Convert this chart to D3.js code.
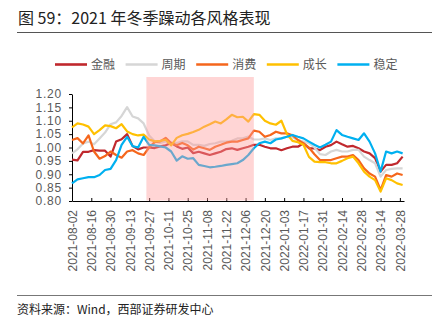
<!DOCTYPE html>
<html>
<head>
<meta charset="utf-8">
<script src="https://d3js.org/d3.v7.min.js"></script>
<style>
  body { margin: 0; background: #fff; }
  #my_dataviz svg { display: block; }
</style>
</head>
<body>
<div id="my_dataviz"></div>
<script>
// sample dates (every 4 days)
var dates = [
  "2021-08-02","2021-08-06","2021-08-10","2021-08-14","2021-08-18","2021-08-22","2021-08-26","2021-08-30",
  "2021-09-03","2021-09-07","2021-09-11","2021-09-15","2021-09-19","2021-09-23","2021-09-27","2021-10-01",
  "2021-10-05","2021-10-09","2021-10-13","2021-10-17","2021-10-21","2021-10-25","2021-10-29","2021-11-02",
  "2021-11-06","2021-11-10","2021-11-14","2021-11-18","2021-11-22","2021-11-26","2021-11-30","2021-12-04",
  "2021-12-08","2021-12-12","2021-12-16","2021-12-20","2021-12-24","2021-12-28","2022-01-01","2022-01-05",
  "2022-01-09","2022-01-13","2022-01-17","2022-01-21","2022-01-25","2022-01-29","2022-02-02","2022-02-06",
  "2022-02-10","2022-02-14","2022-02-18","2022-02-22","2022-02-26","2022-03-02","2022-03-06","2022-03-10",
  "2022-03-14","2022-03-18","2022-03-22","2022-03-26","2022-03-30"
];

var jinrong = [
  0.955, 0.952, 0.984, 0.984, 0.990, 0.988, 0.988, 0.966, 1.022, 1.031, 1.050, 1.005, 0.993, 1.000, 1.000,
  0.998, 1.004, 1.008, 1.017, 1.004, 0.995, 1.000, 0.979,
  0.984, 0.978, 0.972, 0.978, 0.984, 0.994, 0.997, 0.991, 0.997, 1.003,
  1.010, 1.010, 1.003, 0.997, 0.997, 0.990, 0.997, 1.003, 1.003, 1.016, 0.997, 0.997, 0.990, 1.003,
  1.009, 1.022, 1.012, 1.003, 1.006, 0.997, 0.985, 0.978, 0.960, 0.910, 0.935, 0.935, 0.941, 0.966
];
var zhouqi = [
  0.978, 0.993, 1.015, 1.022, 1.012, 1.034, 1.056, 1.087, 1.094, 1.118, 1.151, 1.116, 1.109, 1.090, 1.045,
  1.023, 1.017, 1.023, 1.017, 1.017, 1.023, 1.023, 1.010,
  1.010, 1.006, 1.013, 1.016, 1.022, 1.022, 1.025, 1.034, 1.034, 1.041,
  1.030, 1.030, 1.034, 1.028, 1.034, 1.034, 1.040, 1.038, 1.028, 1.022, 1.016, 1.000, 0.975, 0.972,
  0.985, 0.991, 0.985, 0.985, 0.991, 0.991, 0.966, 0.953, 0.941, 0.891, 0.916, 0.920, 0.922, 0.922
];
var xiaofei = [
  1.028, 1.035, 1.015, 1.045, 0.985, 0.958, 0.968, 0.985, 0.972, 0.962, 0.985, 0.990, 0.978, 0.972, 1.000,
  1.020, 1.023, 1.036, 1.017, 1.008, 1.017, 1.008, 0.992,
  1.003, 0.997, 0.991, 1.003, 1.010, 1.018, 1.022, 1.022, 1.028, 1.034,
  1.063, 1.059, 1.040, 1.047, 1.059, 1.053, 1.053, 1.046, 1.028, 1.016, 1.000, 0.975, 0.953, 0.953,
  0.953, 0.960, 0.966, 0.966, 0.972, 0.953, 0.922, 0.903, 0.891, 0.841, 0.897, 0.891, 0.903, 0.897
];
var chengzhang = [
  1.075, 1.090, 1.086, 1.078, 1.050, 1.065, 1.083, 1.080, 1.072, 1.087, 1.060, 1.050, 1.045, 1.048, 1.030,
  1.023, 1.025, 1.029, 1.008, 1.036, 1.046, 1.051, 1.058,
  1.066, 1.078, 1.087, 1.097, 1.090, 1.105, 1.122, 1.113, 1.115, 1.097,
  1.125, 1.122, 1.100, 1.090, 1.085, 1.100, 1.050, 1.025, 1.020, 1.010, 0.965, 0.947, 0.945, 0.945,
  0.941, 0.941, 0.950, 0.960, 0.966, 0.941, 0.910, 0.891, 0.878, 0.835, 0.885, 0.878, 0.866, 0.860
];
var wending = [
  0.866, 0.881, 0.885, 0.889, 0.889, 0.897, 0.916, 0.920, 0.953, 1.010, 1.040, 1.005, 1.000, 1.040, 1.010,
  1.008, 1.004, 1.000, 0.985, 0.951, 0.967, 0.958, 0.960,
  0.935, 0.931, 0.926, 0.928, 0.931, 0.935, 0.938, 0.941, 0.953, 0.972,
  0.997, 1.016, 1.022, 1.016, 1.030, 1.034, 1.040, 1.047, 1.040, 1.034, 1.022, 1.010, 1.000, 1.010,
  1.022, 1.065, 1.047, 1.040, 1.034, 1.028, 1.053, 1.022, 0.978, 0.910, 0.985, 0.978, 0.985, 0.978
];

var seriesNames = ["金融", "周期", "消费", "成长", "稳定"];
var seriesColors = ["#C0282D", "#D6D6D6", "#F5661C", "#FFC000", "#00B0F0"];

var yTicks = [0.80, 0.85, 0.90, 0.95, 1.00, 1.05, 1.10, 1.15, 1.20];
var xTicks = [
  "2021-08-02","2021-08-16","2021-08-30","2021-09-13","2021-09-27","2021-10-11","2021-10-25","2021-11-08",
  "2021-11-22","2021-12-06","2021-12-20","2022-01-03","2022-01-17","2022-01-31","2022-02-14","2022-02-28",
  "2022-03-14","2022-03-28"
];
// winter rally window
var shadeRange = ["2021-09-25", "2021-12-12"];

function render() {
  var parseDate = d3.timeParse("%Y-%m-%d");
  var W = 440, H = 327;

  var svg = d3.select("#my_dataviz")
    .append("svg")
    .attr("width", W)
    .attr("height", H);

  // title and rules
  svg.append("text")
    .attr("x", 18)
    .attr("y", 24)
    .attr("font-family", "'Noto Sans CJK SC', sans-serif")
    .attr("font-size", 16)
    .attr("fill", "#222")
    .text("图 59：2021 年冬季躁动各风格表现");

  svg.append("line")
    .attr("x1", 17).attr("x2", 432)
    .attr("y1", 32.5).attr("y2", 32.5)
    .attr("stroke", "#555").attr("stroke-width", 1.2);

  svg.append("line")
    .attr("x1", 17).attr("x2", 432)
    .attr("y1", 295.5).attr("y2", 295.5)
    .attr("stroke", "#777").attr("stroke-width", 1);

  svg.append("text")
    .attr("x", 17)
    .attr("y", 314)
    .attr("font-family", "'Noto Sans CJK SC', sans-serif")
    .attr("font-size", 12)
    .attr("fill", "#222")
    .text("资料来源：Wind，西部证券研发中心");

  // scales
  var x = d3.scaleTime()
    .domain([parseDate("2021-08-02"), parseDate("2022-03-31")])
    .range([72, 404]);

  var y = d3.scaleLinear()
    .domain([0.80, 1.20])
    .range([201, 94]);

  // y axis
  var yAxis = svg.append("g")
    .attr("transform", "translate(72,0)")
    .call(d3.axisLeft(y).tickValues(yTicks).tickSize(3).tickSizeOuter(0).tickPadding(7)
      .tickFormat(d3.format(".2f")));
  yAxis.select(".domain").attr("stroke", "#000");
  yAxis.selectAll(".tick line").attr("stroke", "#000");
  yAxis.selectAll("text")
    .attr("font-family", "'Liberation Sans', Arial, sans-serif")
    .attr("font-size", 12)
    .attr("letter-spacing", 0.8)
    .attr("fill", "#595959");

  // x axis
  var xAxis = svg.append("g")
    .attr("transform", "translate(0,201)")
    .call(d3.axisBottom(x).tickValues(xTicks.map(parseDate)).tickSize(-3).tickSizeOuter(0)
      .tickFormat(d3.timeFormat("%Y-%m-%d")));
  xAxis.select(".domain").attr("stroke", "#000");
  xAxis.selectAll(".tick line").attr("stroke", "#000");
  xAxis.selectAll("text")
    .attr("transform", "rotate(-90)")
    .attr("text-anchor", "end")
    .attr("x", -9)
    .attr("y", 0)
    .attr("dy", "0.35em")
    .attr("font-family", "'Liberation Sans', Arial, sans-serif")
    .attr("font-size", 12)
    .attr("fill", "#595959");

  // lines
  var allSeries = [jinrong, zhouqi, xiaofei, chengzhang, wending];
  var line = d3.line()
    .x(function(d, i) { return x(parseDate(dates[i])); })
    .y(function(d) { return y(d); });

  svg.append("g")
    .selectAll("path")
    .data(allSeries)
    .enter().append("path")
      .attr("d", line)
      .attr("fill", "none")
      .attr("stroke", function(d, i) { return seriesColors[i]; })
      .attr("stroke-width", 2.2)
      .attr("stroke-linejoin", "round");

  // translucent band over the rally window
  svg.append("rect")
    .attr("x", x(parseDate(shadeRange[0])))
    .attr("width", x(parseDate(shadeRange[1])) - x(parseDate(shadeRange[0])))
    .attr("y", 77)
    .attr("height", 200.5 - 77)
    .attr("fill", "rgb(255,155,155)")
    .attr("fill-opacity", 0.42);

  // legend
  var legend = svg.append("g")
    .selectAll("g")
    .data(seriesNames)
    .enter().append("g")
    .attr("transform", function(d, i) { return "translate(" + (55 + i * 70.6) + ",64.5)"; });

  legend.append("line")
    .attr("x1", 0).attr("x2", 32)
    .attr("stroke", function(d, i) { return seriesColors[i]; })
    .attr("stroke-width", 2.6);

  legend.append("text")
    .attr("x", 36)
    .attr("dy", "0.36em")
    .attr("font-family", "'Noto Sans CJK SC', sans-serif")
    .attr("font-size", 12)
    .attr("fill", "#595959")
    .text(function(d) { return d; });
}

render();
</script>
</body>
</html>
